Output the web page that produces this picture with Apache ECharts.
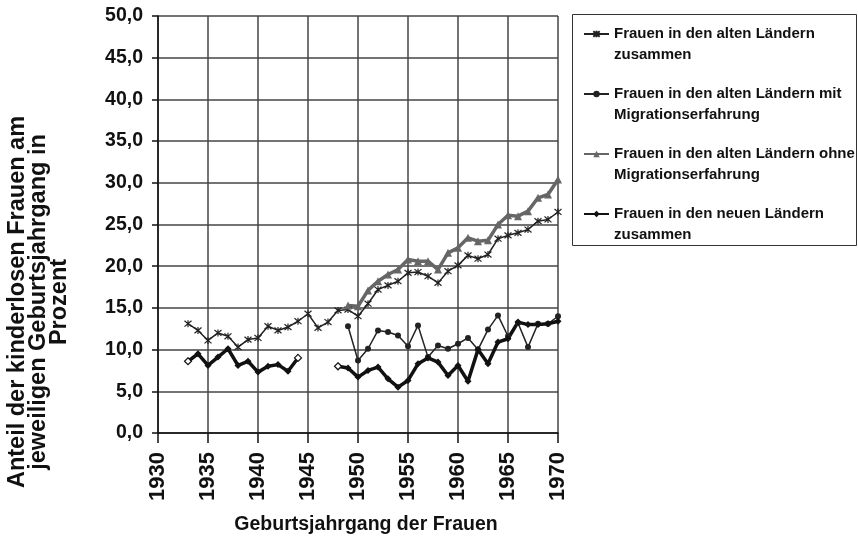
<!DOCTYPE html>
<html>
<head>
<meta charset="utf-8">
<style>
    html, body {
        margin: 0;
        padding: 0;
        background: #fff;
    }

    #main {
        width: 858px;
        height: 536px;
    }
</style>
</head>
<body>
<div id="main"></div>
<script src="https://cdn.jsdelivr.net/npm/echarts@6/dist/echarts.min.js"></script>
<script>
    // Geburtsjahrgänge
    var years = [1933, 1934, 1935, 1936, 1937, 1938, 1939, 1940, 1941, 1942,
        1943, 1944, 1945, 1946, 1947, 1948, 1949, 1950, 1951, 1952,
        1953, 1954, 1955, 1956, 1957, 1958, 1959, 1960, 1961, 1962,
        1963, 1964, 1965, 1966, 1967, 1968, 1969, 1970];

    // Anteil kinderloser Frauen in Prozent
    var altZusammen = [13.1, 12.3, 11.1, 12.0, 11.6, 10.3, 11.2, 11.4, 12.8, 12.3,
        12.7, 13.4, 14.3, 12.6, 13.3, 14.7, 14.8, 14.0, 15.5, 17.2,
        17.7, 18.2, 19.2, 19.3, 18.8, 18.0, 19.4, 20.1, 21.3, 20.9,
        21.4, 23.3, 23.7, 24.0, 24.4, 25.4, 25.6, 26.5];
    var altMit = [null, null, null, null, null, null, null, null, null, null,
        null, null, null, null, null, null, 12.8, 8.7, 10.1, 12.3,
        12.1, 11.7, 10.4, 12.9, 9.1, 10.5, 10.1, 10.7, 11.4, 10.0,
        12.4, 14.1, 11.6, 13.2, 10.3, 13.1, 13.1, 14.0];
    var altOhne = [null, null, null, null, null, null, null, null, null, null,
        null, null, null, null, null, null, 15.3, 15.2, 17.1, 18.2,
        19.0, 19.6, 20.8, 20.6, 20.6, 19.6, 21.6, 22.2, 23.4, 23.0,
        23.1, 25.0, 26.1, 26.0, 26.6, 28.2, 28.6, 30.4];
    var neuZusammen = [8.6, 9.5, 8.1, 9.1, 10.1, 8.1, 8.6, 7.3, 8.0, 8.2,
        7.4, 9.0, null, null, null, 8.0, 7.8, 6.7, 7.5, 7.9,
        6.5, 5.5, 6.3, 8.3, 9.0, 8.5, 6.9, 8.1, 6.2, 10.0,
        8.3, 10.9, 11.3, 13.3, 13.0, 13.0, 13.1, 13.4];
    // Jahrgänge mit offener Raute
    var openYears = [1933, 1944, 1948];

    var seriesNames = [
        'Frauen in den alten Ländern\nzusammen',
        'Frauen in den alten Ländern mit\nMigrationserfahrung',
        'Frauen in den alten Ländern ohne\nMigrationserfahrung',
        'Frauen in den neuen Ländern\nzusammen'
    ];

    var font = 'Liberation Sans';

    function toPairs(values, openList) {
        var out = [];
        for (var i = 0; i < years.length; i++) {
            var v = values[i];
            var item = {value: [years[i], v == null ? '-' : v]};
            if (openList && openList.indexOf(years[i]) >= 0) {
                item.itemStyle = {color: '#fff', borderColor: '#111', borderWidth: 1.2};
            }
            out.push(item);
        }
        return out;
    }

    var myChart = echarts.init(document.getElementById('main'));

    var option = {
        animation: false,
        backgroundColor: '#fff',
        grid: {
            left: 158,
            right: 300,
            top: 16,
            bottom: 103
        },
        legend: {
            orient: 'vertical',
            left: 583,
            top: 2.5,
            padding: 0,
            itemWidth: 25,
            itemHeight: 8,
            itemGap: -3,
            data: seriesNames,
            // leere erste Zeile, damit das Symbol neben der ersten Textzeile steht
            formatter: function (name) {
                return '\n' + name;
            },
            textStyle: {
                fontFamily: font,
                fontWeight: 'bold',
                fontSize: 15,
                color: '#111',
                lineHeight: 21
            }
        },
        xAxis: {
            type: 'value',
            min: 1930,
            max: 1970,
            interval: 5,
            axisLine: {lineStyle: {color: '#111', width: 1.5}},
            axisTick: {show: true, length: 10, lineStyle: {color: '#111', width: 1.5}},
            axisLabel: {
                rotate: 90,
                margin: 19,
                fontFamily: font,
                fontWeight: 'bold',
                fontSize: 22,
                color: '#111',
                formatter: function (v) {
                    return String(v);
                }
            },
            splitLine: {show: true, lineStyle: {color: '#444', width: 1.5}}
        },
        yAxis: {
            type: 'value',
            min: 0,
            max: 50,
            interval: 5,
            axisLine: {show: true, lineStyle: {color: '#111', width: 1.5}},
            axisTick: {show: true, length: 6, lineStyle: {color: '#111', width: 1.5}},
            axisLabel: {
                margin: 15,
                fontFamily: font,
                fontWeight: 'bold',
                fontSize: 19.5,
                color: '#111',
                formatter: function (v) {
                    return v.toFixed(1).replace('.', ',');
                }
            },
            splitLine: {show: true, lineStyle: {color: '#444', width: 1.5}}
        },
        graphic: [
            // Rahmen der Legende
            {
                type: 'rect',
                shape: {x: 572.5, y: 14.5, width: 284, height: 231},
                style: {fill: 'none', stroke: '#333', lineWidth: 1}
            },
            {
                type: 'text',
                x: 366,
                y: 525,
                style: {
                    text: 'Geburtsjahrgang der Frauen',
                    fontFamily: font,
                    fontWeight: 'bold',
                    fontSize: 19.5,
                    fill: '#111',
                    align: 'center',
                    verticalAlign: 'middle'
                }
            },
            {
                type: 'text',
                x: 39,
                y: 302,
                rotation: Math.PI / 2,
                style: {
                    text: 'Anteil der kinderlosen Frauen am\njeweiligen Geburtsjahrgang in\nProzent',
                    fontFamily: font,
                    fontWeight: 'bold',
                    fontSize: 23.5,
                    lineHeight: 21,
                    fill: '#111',
                    align: 'center',
                    verticalAlign: 'middle'
                }
            }
        ],
        series: [
            {
                name: seriesNames[0],
                type: 'line',
                data: toPairs(altZusammen),
                symbol: 'path://M0,0L10,10M10,0L0,10M5,-1L5,11',
                symbolSize: 7,
                showAllSymbol: true,
                connectNulls: false,
                lineStyle: {color: '#222', width: 1.5},
                itemStyle: {color: '#222', borderColor: '#222', borderWidth: 1.2}
            },
            {
                name: seriesNames[1],
                type: 'line',
                data: toPairs(altMit),
                symbol: 'circle',
                symbolSize: 6,
                showAllSymbol: true,
                connectNulls: false,
                lineStyle: {color: '#222', width: 1.5},
                itemStyle: {color: '#222'}
            },
            {
                name: seriesNames[2],
                type: 'line',
                data: toPairs(altOhne),
                symbol: 'triangle',
                symbolSize: 8,
                showAllSymbol: true,
                connectNulls: false,
                lineStyle: {color: '#666', width: 3.5},
                itemStyle: {color: '#666'}
            },
            {
                name: seriesNames[3],
                type: 'line',
                data: toPairs(neuZusammen, openYears),
                symbol: 'diamond',
                symbolSize: 7,
                showAllSymbol: true,
                connectNulls: false,
                lineStyle: {color: '#111', width: 3.5},
                itemStyle: {color: '#111'}
            }
        ]
    };

    myChart.setOption(option);
</script>
</body>
</html>
